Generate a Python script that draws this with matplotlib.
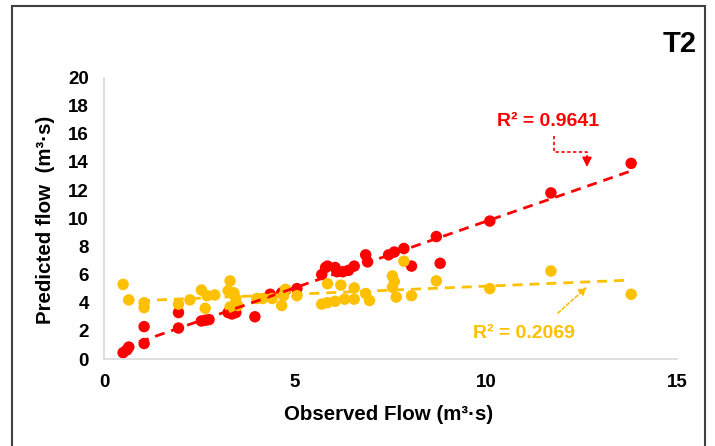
import numpy as np
import matplotlib.pyplot as plt
from matplotlib.patches import Rectangle
from matplotlib.lines import Line2D

plt.rcParams['font.family'] = ['Liberation Sans', 'DejaVu Sans']

# observed / predicted flow
red_x = [0.5, 0.6, 0.65, 1.05, 1.05, 1.95, 1.95, 2.55, 2.65, 2.75, 3.25, 3.35, 3.45, 3.3, 3.4,
         3.95, 4.35, 4.65, 4.75, 5.05, 5.7, 5.8, 5.85, 6.05, 6.1, 6.25, 6.4, 6.55, 6.85, 6.9,
         7.45, 7.6, 7.85, 8.05, 8.7, 8.8, 10.1, 11.7, 13.8]
red_y = [0.45, 0.65, 0.85, 1.1, 2.3, 2.2, 3.3, 2.7, 2.75, 2.8, 3.3, 3.2, 3.3, 3.5, 3.5,
         3.0, 4.6, 4.7, 4.9, 5.0, 6.0, 6.5, 6.6, 6.5, 6.2, 6.2, 6.3, 6.6, 7.4, 6.9,
         7.4, 7.6, 7.85, 6.6, 8.7, 6.8, 9.8, 11.8, 13.9]

yel_x = [0.5, 0.65, 1.05, 1.05, 1.95, 2.25, 2.55, 2.7, 2.9, 2.65, 3.3, 3.25, 3.4, 3.45, 3.3,
         3.5, 4.0, 4.15, 4.4, 4.65, 4.75, 4.7, 5.05, 5.85, 6.2, 6.55, 5.7, 5.85, 6.05, 6.3,
         6.55, 6.85, 6.95, 7.55, 7.6, 7.55, 7.65, 7.85, 8.05, 8.7, 10.1, 11.7, 13.8]
yel_y = [5.3, 4.2, 4.0, 3.65, 3.9, 4.2, 4.9, 4.5, 4.55, 3.6, 5.55, 4.85, 4.7, 4.3, 3.7,
         3.8, 4.3, 4.3, 4.3, 3.8, 4.95, 4.5, 4.5, 5.35, 5.25, 5.05, 3.9, 4.0, 4.1, 4.25,
         4.25, 4.65, 4.15, 5.9, 5.5, 5.1, 4.4, 6.95, 4.5, 5.55, 5.0, 6.25, 4.6]

red_r2 = "R² = 0.9641"
yel_r2 = "R² = 0.2069"

red = '#FF0000'
gold = '#FFC000'

W, H = 715, 446
def fx(px):
    return px / W
def fy(py):
    return 1 - py / H

fig = plt.figure(figsize=(7.15, 4.46), dpi=100)
ax = fig.add_axes([fx(104), fy(359), 573/W, 281.5/H])

ax.scatter(red_x, red_y, s=68, color=red, edgecolors='none', zorder=2)
ax.scatter(yel_x, yel_y, s=68, color=gold, edgecolors='none', zorder=2)

# linear trendlines
for xs, ys, c in [(red_x, red_y, red), (yel_x, yel_y, gold)]:
    k, b = np.polyfit(xs, ys, 1)
    xx = np.array([min(xs), max(xs)])
    ax.plot(xx, k*xx + b, color=c, lw=2, linestyle=(0, (3.6, 2.5)), zorder=3)

ax.set_xlim(0, 15)
ax.set_ylim(0, 20)
ax.set_xticks([0, 5, 10, 15])
ax.set_yticks(range(0, 21, 2))
ax.tick_params(length=0, labelsize=13.5)
ax.tick_params(axis='y', pad=11)
ax.tick_params(axis='x', pad=11)
for lab in ax.get_xticklabels() + ax.get_yticklabels():
    lab.set_fontweight('bold')
for s in ['top', 'right']:
    ax.spines[s].set_visible(False)
for s in ['left', 'bottom']:
    ax.spines[s].set_color('#d9d9d9')
    ax.spines[s].set_linewidth(1.2)

fig.text(fx(389), fy(414), "Observed Flow (m³·s)", ha='center', va='center',
         fontsize=14.8, fontweight='bold')
fig.text(fx(46), fy(220), "Predicted flow  (m³·s)", ha='center', va='center',
         rotation=90, fontsize=14.8, fontweight='bold')
fig.text(fx(697), fy(44), "T2", ha='right', va='center', fontsize=21, fontweight='bold')

fig.text(fx(548), fy(122), red_r2, ha='center', va='center',
         fontsize=14, fontweight='bold', color=red)
fig.text(fx(524), fy(333), yel_r2, ha='center', va='center',
         fontsize=14, fontweight='bold', color=gold)

# elbow arrow for red label: down, right, then down with head
fig.add_artist(Line2D([fx(554), fx(554), fx(587), fx(587)],
                      [fy(136), fy(152), fy(152), fy(157)],
                      transform=fig.transFigure, color=red, lw=1.2,
                      linestyle=(0, (2, 1.5))))
ax.annotate('', xy=(fx(587), fy(167)), xytext=(fx(587), fy(156)),
            xycoords='figure fraction', textcoords='figure fraction',
            arrowprops=dict(arrowstyle='-|>', color=red, lw=1.2,
                            mutation_scale=14, shrinkA=0, shrinkB=0))
ax.annotate('', xy=(fx(587), fy(287)), xytext=(fx(558), fy(313)),
            xycoords='figure fraction', textcoords='figure fraction',
            arrowprops=dict(arrowstyle='-|>', color=gold, lw=1.2, linestyle=(0, (2, 1.5)),
                            mutation_scale=12, shrinkA=0, shrinkB=0))

fig.patches.append(Rectangle((fx(12), -0.05), (705 - 12)/W, 1.05 - 6/H,
                             transform=fig.transFigure, fill=False,
                             edgecolor='#404040', lw=1.5))

fig.savefig('out.png', dpi=100)
